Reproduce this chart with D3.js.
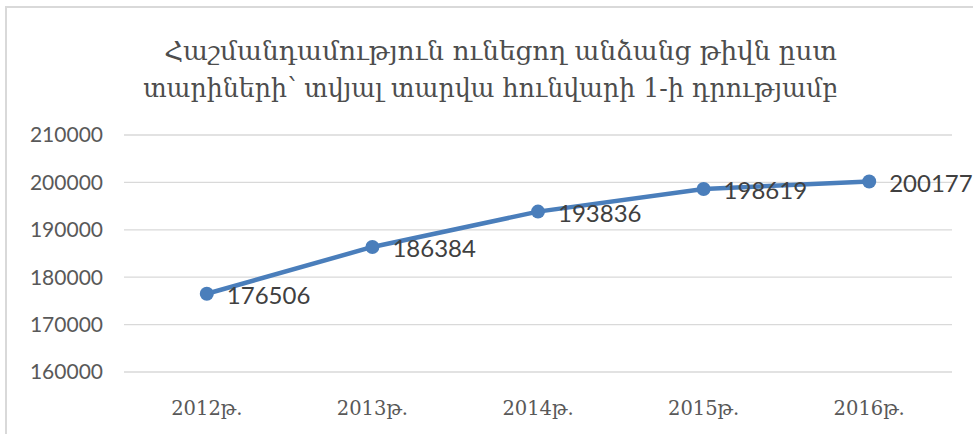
<!DOCTYPE html>
<html>
<head>
<meta charset="utf-8">
<script src="https://cdn.jsdelivr.net/npm/d3@7"></script>
<style>
  body { margin: 0; background: #fff; }
  .ytick { font-family: Lato, "Open Sans", sans-serif; font-size: 21px; fill: #595959; }
  .xtick { font-family: "DejaVu Serif", serif; font-size: 19.5px; fill: #595959; }
  .lbl { font-family: Lato, "Open Sans", sans-serif; font-size: 24px; fill: #404040; }
  .title { font-family: "DejaVu Serif", serif; fill: #4d4d4d; }
</style>
</head>
<body>
<svg class="chart"></svg>
<script>
var width = 973,
    height = 434;

var years = ['2012թ.', '2013թ.', '2014թ.', '2015թ.', '2016թ.'];
var values = [176506, 186384, 193836, 198619, 200177];
var yticks = [160000, 170000, 180000, 190000, 200000, 210000];
var titleLines = ['Հաշմանդամություն ունեցող անձանց թիվն ըստ',
                  'տարիների՝ տվյալ տարվա հունվարի 1-ի դրությամբ'];

var plotLeft = 124, plotRight = 952, plotTop = 135, plotBottom = 372;

var chart = d3.select(".chart")
    .attr("width", width)
    .attr("height", height);

// frame around the chart area (runs off the bottom/right edge)
chart.append('rect')
  .attr('x', 6).attr('y', 7)
  .attr('width', width + 20).attr('height', height + 20)
  .attr('fill', 'none')
  .attr('stroke', '#d9d9d9')
  .attr('stroke-width', 2);

var xscale = d3.scalePoint().domain(years).range([plotLeft, plotRight]).padding(0.5);
var yscale = d3.scaleLinear().domain([160000, 210000]).range([plotBottom, plotTop]);

// title, two lines, squeezed to the reference widths
var titleWidths = [673, 695];
var titleY = [60, 97];
titleLines.forEach(function(t, i) {
  var txt = chart.append('text')
    .attr('class', 'title')
    .attr('x', (163 + 838) / 2 - (i == 1 ? 10 : 0))
    .attr('y', titleY[i])
    .attr('text-anchor', 'middle')
    .style('font-size', '24px')
    .text(t);
  var w = txt.node().getComputedTextLength();
  txt.style('font-size', (24 * titleWidths[i] / w) + 'px');
});

// gridlines
chart.selectAll('line.grid')
    .data(yticks)
  .enter().append('line')
    .attr('class', 'grid')
    .attr('x1', plotLeft).attr('x2', plotRight)
    .attr('y1', function(d) { return yscale(d); })
    .attr('y2', function(d) { return yscale(d); })
    .attr('stroke', '#d9d9d9')
    .attr('stroke-width', 1.3);

// y tick labels
chart.selectAll('text.ytick')
    .data(yticks)
  .enter().append('text')
    .attr('class', 'ytick')
    .attr('x', 103)
    .attr('y', function(d) { return yscale(d); })
    .attr('dy', '.35em')
    .attr('text-anchor', 'end')
    .text(function(d) { return d; });

// x tick labels
chart.selectAll('text.xtick')
    .data(years)
  .enter().append('text')
    .attr('class', 'xtick')
    .attr('x', function(d) { return xscale(d); })
    .attr('y', 415)
    .attr('text-anchor', 'middle')
    .text(function(d) { return d; });

var line = d3.line()
  .x(function(d, i) { return xscale(years[i]); })
  .y(function(d) { return yscale(d); });

chart.append('path')
  .datum(values)
  .attr('d', line)
  .attr('fill', 'none')
  .attr('stroke', '#4a7ebb')
  .attr('stroke-width', 4.5)
  .attr('stroke-linejoin', 'round');

var dot = chart.selectAll('g.pt')
    .data(values)
  .enter().append('g')
    .attr('class', 'pt');

dot.append('circle')
  .attr('cx', function(d, i) { return xscale(years[i]); })
  .attr('cy', function(d) { return yscale(d); })
  .attr('r', 7)
  .attr('fill', '#4a7ebb');

dot.append('text')
  .attr('class', 'lbl')
  .attr('x', function(d, i) { return xscale(years[i]) + 20; })
  .attr('y', function(d) { return yscale(d) + 2; })
  .attr('dy', '.35em')
  .text(function(d) { return d; });
</script>
</body>
</html>
